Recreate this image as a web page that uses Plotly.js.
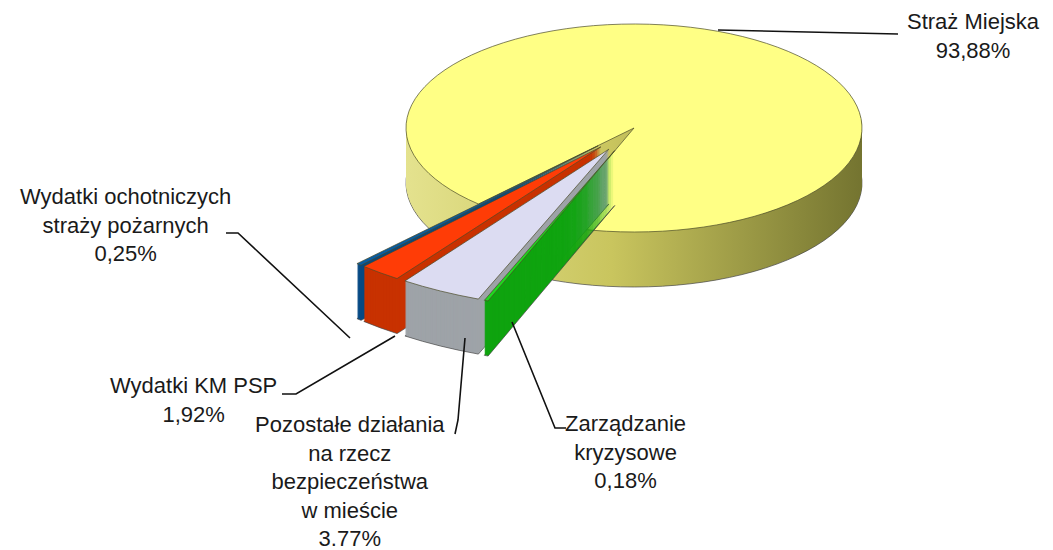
<!DOCTYPE html>
<html><head><meta charset="utf-8">
<script src="https://cdn.plot.ly/plotly-3.0.1.min.js"></script>
<style>html,body{margin:0;padding:0;background:#fff}#chart{width:1053px;height:550px}</style>
</head><body>
<svg width="0" height="0" style="position:absolute">
  <defs>
    <linearGradient id="ygrad" x1="0" y1="0" x2="1" y2="0">
      <stop offset="0" stop-color="#E4E28E"/>
      <stop offset="0.45" stop-color="#C9C55E"/>
      <stop offset="1" stop-color="#747430"/>
    </linearGradient>
  </defs>
</svg>
<div id="chart"></div>
<script>
// ---- data ----
const categories = ["Zarządzanie kryzysowe","Pozostałe działania na rzecz bezpieczeństwa w mieście","Wydatki KM PSP","Wydatki ochotniczych straży pożarnych","Straż Miejska"];
const values = [0.18, 3.77, 1.92, 0.25, 93.88];
const labelTexts = ["Zarządzanie<br>kryzysowe<br>0,18%","Pozostałe działania<br>na rzecz<br>bezpieczeństwa<br>w mieście<br>3.77%","Wydatki KM PSP<br>1,92%","Wydatki ochotniczych<br>straży pożarnych<br>0,25%","Straż Miejska<br>93,88%"];
const topColors = ["#1ED81E","#DCDCF2","#FF3C06","#0A5CA0","#FFFF85"];
const sideColors = ["#10A410","#9EA3A8","#C83200","#074A84","#CFCB62"];
const exploded = [true, true, true, true, false];

// ---- geometry of the pseudo-3D pie ----
const W = 1053, H = 550;
const CX = 634, CY = 128, RX = 228, RY = 104, DEPTH = 55, STEPS = 55;
const PULL = 0.15, FRONT_SCALE = 1.55;
const CLEAR = 'rgba(0,0,0,0)';

const traces = [], meta = [];
function addLayers(front) {
  for (let k = STEPS; k >= 0; k--) {
    const top = (k === 0), bottom = (k === STEPS);
    const base = top ? topColors : sideColors;
    const colors = base.map((c, i) => exploded[i] === front ? c : CLEAR);
    const lw = exploded.map(e => (e === front && (top || bottom)) ? 0.7 : 0);
    traces.push({
      type: 'pie', labels: categories, values: values, sort: false,
      direction: 'clockwise', rotation: 201,
      pull: front ? exploded.map(e => e ? PULL : 0) : 0,
      textinfo: 'none', hoverinfo: 'skip',
      marker: { colors: colors, line: { color: top ? '#4a4a28' : '#444', width: lw } },
      domain: { x: [0, 1], y: [0, 1] }, showlegend: false
    });
    meta.push({ off: DEPTH * k / STEPS, s: front ? FRONT_SCALE : 1, side: !top, front: front });
  }
}
addLayers(false);
addLayers(true);

const P = (x, y) => [x / W, 1 - y / H];
function pathShape(pts) {
  let d = pts.map((p, i) => { const q = P(p[0], p[1]); return (i ? 'L' : 'M') + q[0] + ',' + q[1]; }).join(' ');
  return { type: 'path', xref: 'paper', yref: 'paper', path: d, line: { color: '#111', width: 1.6 } };
}
const leaders = [
  [[512,322],[555,428],[566,428]],
  [[455,434],[458,420],[465,338]],
  [[282,394],[296,394],[395,336]],
  [[226,233],[238,233],[350,338]],
  [[718,30],[898,34]]
];
const labelPos = [[625,452],[350,481],[193,400],[125,225],[973,36]];

const annotations = labelTexts.map((t, i) => {
  const q = P(labelPos[i][0], labelPos[i][1]);
  return { text: t, x: q[0], y: q[1], xref: 'paper', yref: 'paper', showarrow: false,
           xanchor: 'center', yanchor: 'middle', align: 'center',
           font: { family: 'Liberation Sans, Arial, sans-serif', size: 22, color: '#1a1a1a' } };
});

const layout = {
  width: W, height: H, margin: { l: 0, r: 0, t: 0, b: 0 },
  paper_bgcolor: '#fff', plot_bgcolor: '#fff', showlegend: false,
  annotations: annotations, shapes: leaders.map(pathShape)
};

const gd = document.getElementById('chart');
function squash() {
  const groups = gd.querySelectorAll('.pielayer .trace');
  groups.forEach((g, i) => {
    const cd0 = gd.calcdata[i][0];
    const m = meta[i];
    const sx = RX * m.s / cd0.r, sy = RY * m.s / cd0.r;
    g.setAttribute('transform', `translate(${CX},${CY + m.off}) scale(${sx},${sy}) translate(${-cd0.cx},${-cd0.cy})`);
    g.querySelectorAll('path').forEach(p => p.setAttribute('vector-effect', 'non-scaling-stroke'));
    if (m.side && !m.front) {
      const sl = g.querySelectorAll('g.slice');
      exploded.forEach((e, j) => {
        if (!e && sl[j]) { const p = sl[j].querySelector('path'); if (p) p.style.fill = 'url(#ygrad)'; }
      });
    }
  });
}
Plotly.newPlot(gd, traces, layout, { staticPlot: true, displayModeBar: false }).then(squash);
</script></body></html>
